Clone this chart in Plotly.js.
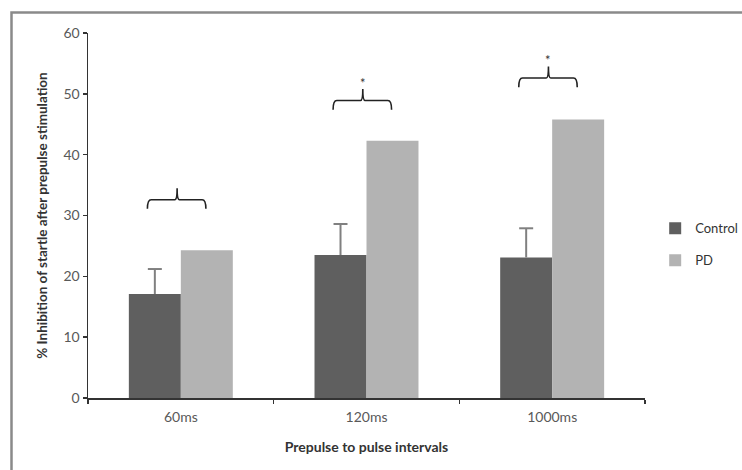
<!DOCTYPE html>
<html>
<head>
<meta charset="utf-8">
<script src="https://cdn.plot.ly/plotly-3.0.1.min.js"></script>
<style>html,body{margin:0;padding:0;background:#fff;}#chart{width:742px;height:470px;}</style>
</head>
<body>
<div id="chart"></div>
<script>
// Data
const categories = ["60ms", "120ms", "1000ms"];
const controlValues = [17.1, 23.5, 23.1];
const controlErrorsUp = [4.1, 5.1, 4.8];
const pdValues = [24.3, 42.3, 45.8];
const seriesNames = ["Control", "PD"];
const bracketLevels = [32.6, 48.9, 52.6];
const significance = ["", "*", "*"];

const FONT = "Lato, 'Open Sans', 'Liberation Sans', sans-serif";
const BARGAP = 0.44;
const controlOffset = -(1 - BARGAP) / 4;

const traces = [
  {
    type: "bar", name: seriesNames[0], x: categories, y: controlValues, legendgroup: "g1",
    marker: {color: "#5f5f5f"},
    error_y: {type: "data", array: controlErrorsUp, arrayminus: controlErrorsUp.map(() => 0),
              symmetric: false, color: "#808080", thickness: 2, width: 0}
  },
  {
    type: "bar", name: seriesNames[1], x: categories, y: pdValues, legendgroup: "g2",
    marker: {color: "#b3b3b3"}
  },
  {
    type: "scatter", mode: "markers", xaxis: "x2", yaxis: "y", showlegend: false, hoverinfo: "skip",
    x: categories.map((c, i) => i + controlOffset),
    y: controlValues.map((v, i) => v + controlErrorsUp[i]),
    marker: {symbol: "line-ew", size: 10, color: "#808080", line: {color: "#808080", width: 2}}
  }
];

const shapes = [];
const annotations = [];
categories.forEach((c, i) => {
  const a = i - 0.18, b = i + 0.135, p = i - 0.02;
  const h = bracketLevels[i], lo = h - 1.5, hi = h + 1.9;
  const r = 0.02;
  shapes.push({
    type: "path", xref: "x", yref: "y",
    path: `M${a},${lo} Q${a},${h} ${a + r},${h} L${p - 0.012},${h} Q${p},${h} ${p},${hi} Q${p},${h} ${p + 0.012},${h} L${b - r},${h} Q${b},${h} ${b},${lo}`,
    line: {color: "#222", width: 1.6}
  });
  if (significance[i]) {
    annotations.push({
      xref: "x", yref: "y", x: p, y: hi - 0.6, text: significance[i],
      showarrow: false, yanchor: "bottom", font: {family: FONT, size: 13, color: "#333"}
    });
  }
});

const layout = {
  width: 742, height: 470,
  margin: {l: 88, r: 97, t: 33, b: 72},
  paper_bgcolor: "#fff", plot_bgcolor: "#fff",
  barmode: "group", bargap: BARGAP, bargroupgap: 0,
  font: {family: FONT, size: 14, color: "#595959"},
  showlegend: true,
  legend: {xref: "container", yref: "container", x: 0.883, y: 0.48, xanchor: "left", yanchor: "middle",
           font: {family: FONT, size: 13, color: "#333"}, tracegroupgap: 12, itemwidth: 30,
           bgcolor: "rgba(0,0,0,0)"},
  xaxis: {
    type: "category", showline: true, linecolor: "#333", linewidth: 1.5,
    ticks: "outside", tickson: "boundaries", ticklen: 4, tickcolor: "#333", tickwidth: 1.5,
    tickfont: {family: FONT, size: 14, color: "#595959"}, ticklabelstandoff: 6,
    showgrid: false, zeroline: false,
    title: {text: "Prepulse to pulse intervals", font: {family: FONT, size: 14, color: "#333", weight: "bold"}, standoff: 18}
  },
  xaxis2: {
    overlaying: "x", range: [-0.5, categories.length - 0.5], visible: false,
    showgrid: false, zeroline: false, fixedrange: true
  },
  yaxis: {
    range: [0, 60], dtick: 10, showline: true, linecolor: "#333", linewidth: 1.5,
    ticks: "outside", ticklen: 4, tickcolor: "#333", tickwidth: 1.5,
    tickfont: {family: FONT, size: 14, color: "#595959"},
    showgrid: false, zeroline: false,
    title: {text: "% Inhibition of startle after prepulse stimulation", font: {family: FONT, size: 13.5, color: "#333", weight: "bold"}, standoff: 12}
  },
  shapes: shapes,
  annotations: annotations
};

Plotly.newPlot("chart", traces, layout, {staticPlot: true, displayModeBar: false}).then(() => {
  // outer frame of the original figure: top and left edges, drawn on the page itself
  const frame = document.createElementNS("http://www.w3.org/2000/svg", "path");
  frame.setAttribute("d", "M11.5,480 V12.5 H760");
  frame.setAttribute("fill", "none");
  frame.setAttribute("stroke", "#8a8a8a");
  frame.setAttribute("stroke-width", "2.5");
  const svg = document.querySelector("#chart .main-svg");
  svg.appendChild(frame);
});
</script>
</body>
</html>
